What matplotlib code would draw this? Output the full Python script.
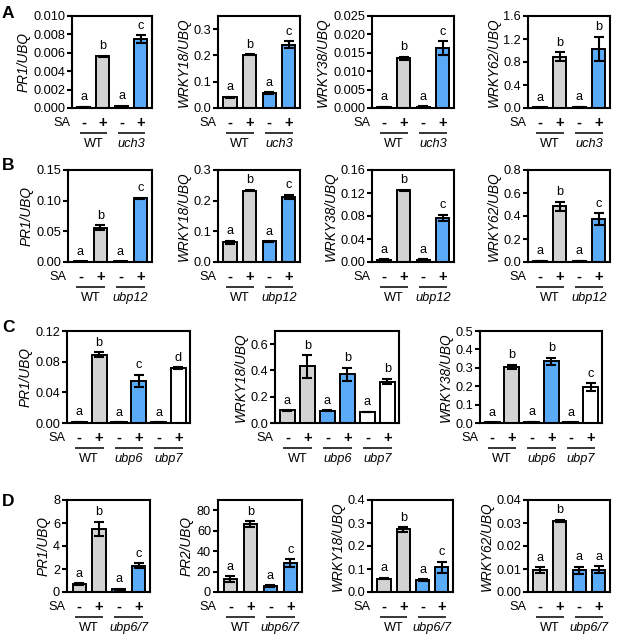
import numpy as np
import matplotlib
matplotlib.use('Agg')
import matplotlib.pyplot as plt
from matplotlib.transforms import blended_transform_factory

plt.rcParams['font.family'] = ['Liberation Sans', 'DejaVu Sans']

W, H = 617, 640
fig = plt.figure(figsize=(W / 100, H / 100), dpi=100)

GRAY = '#d3d3d3'
BLUE = '#5aabf7'
WHITE = '#ffffff'

# ---------------- data ----------------
sa_marks = ['-', '+']

# Row A (uch3)
A_genes = ['PR1', 'WRKY18', 'WRKY38', 'WRKY62']
A_groups = ['WT', 'uch3']
A_values = [[0.0001, 0.0056, 0.0002, 0.0075],
            [0.040, 0.203, 0.057, 0.240],
            [0.0003, 0.0135, 0.0004, 0.0163],
            [0.010, 0.890, 0.015, 1.030]]
A_errors = [[0.00003, 0.0001, 0.00005, 0.0004],
            [0.002, 0.002, 0.002, 0.013],
            [0.00005, 0.0004, 0.00005, 0.0019],
            [0.005, 0.080, 0.005, 0.210]]
A_letters = [['a', 'b', 'a', 'c'], ['a', 'b', 'a', 'c'],
             ['a', 'b', 'a', 'c'], ['a', 'b', 'a', 'b']]
A_ymax = [0.010, 0.35, 0.025, 1.6]
A_yticks = [[0, 0.002, 0.004, 0.006, 0.008, 0.010],
            [0, 0.1, 0.2, 0.3],
            [0, 0.005, 0.010, 0.015, 0.020, 0.025],
            [0, 0.4, 0.8, 1.2, 1.6]]
A_decimals = [3, 1, 3, 1]

# Row B (ubp12)
B_genes = ['PR1', 'WRKY18', 'WRKY38', 'WRKY62']
B_groups = ['WT', 'ubp12']
B_values = [[0.001, 0.056, 0.001, 0.104],
            [0.065, 0.233, 0.067, 0.213],
            [0.004, 0.125, 0.004, 0.077],
            [0.010, 0.485, 0.010, 0.372]]
B_errors = [[0.0002, 0.004, 0.0002, 0.001],
            [0.005, 0.002, 0.001, 0.006],
            [0.0005, 0.001, 0.0005, 0.005],
            [0.002, 0.040, 0.002, 0.050]]
B_letters = [['a', 'b', 'a', 'c'], ['a', 'b', 'a', 'c'],
             ['a', 'b', 'a', 'c'], ['a', 'b', 'a', 'c']]
B_ymax = [0.15, 0.3, 0.16, 0.8]
B_yticks = [[0, 0.05, 0.10, 0.15],
            [0, 0.1, 0.2, 0.3],
            [0, 0.04, 0.08, 0.12, 0.16],
            [0, 0.2, 0.4, 0.6, 0.8]]
B_decimals = [2, 1, 2, 1]

# Row C (ubp6, ubp7)
C_genes = ['PR1', 'WRKY18', 'WRKY38']
C_groups = ['WT', 'ubp6', 'ubp7']
C_values = [[0.0015, 0.089, 0.001, 0.055, 0.001, 0.072],
            [0.097, 0.430, 0.095, 0.370, 0.085, 0.315],
            [0.003, 0.305, 0.005, 0.335, 0.003, 0.195]]
C_errors = [[0.0003, 0.003, 0.0002, 0.008, 0.0002, 0.001],
            [0.002, 0.085, 0.002, 0.050, 0.002, 0.022],
            [0.001, 0.012, 0.001, 0.020, 0.001, 0.022]]
C_letters = [['a', 'b', 'a', 'c', 'a', 'd'],
             ['a', 'b', 'a', 'b', 'a', 'b'],
             ['a', 'b', 'a', 'b', 'a', 'c']]
C_ymax = [0.12, 0.7, 0.5]
C_yticks = [[0, 0.04, 0.08, 0.12],
            [0, 0.2, 0.4, 0.6],
            [0, 0.1, 0.2, 0.3, 0.4, 0.5]]
C_decimals = [2, 1, 1]

# Row D (ubp6/7)
D_genes = ['PR1', 'PR2', 'WRKY18', 'WRKY62']
D_groups = ['WT', 'ubp6/7']
D_values = [[0.70, 5.50, 0.25, 2.30],
            [12.5, 66.5, 5.5, 28.0],
            [0.058, 0.272, 0.052, 0.107],
            [0.0095, 0.0310, 0.0094, 0.0096]]
D_errors = [[0.05, 0.60, 0.05, 0.20],
            [3.0, 2.5, 1.0, 4.0],
            [0.003, 0.010, 0.003, 0.025],
            [0.0012, 0.0005, 0.0015, 0.0015]]
D_letters = [['a', 'b', 'a', 'c'], ['a', 'b', 'a', 'c'],
             ['a', 'b', 'a', 'c'], ['a', 'b', 'a', 'a']]
D_ymax = [8, 90, 0.4, 0.04]
D_yticks = [[0, 2, 4, 6, 8],
            [0, 20, 40, 60, 80],
            [0, 0.1, 0.2, 0.3, 0.4],
            [0, 0.01, 0.02, 0.03, 0.04]]
D_decimals = [0, 0, 1, 2]

# ---------------- layout (pixels: left, right, top, bottom) ----------------
A_rects = [(72, 152, 16, 108), (218, 300, 16, 108), (372, 454, 16, 108), (528, 610, 16, 108)]
B_rects = [(68, 152, 170, 262), (218, 300, 170, 262), (372, 454, 170, 262), (528, 610, 170, 262)]
C_rects = [(67, 190, 331, 423), (275, 399, 331, 423), (480, 602, 331, 423)]
D_rects = [(67, 150, 500, 592), (218, 302, 500, 592), (372, 453, 500, 592), (528, 610, 500, 592)]

col4 = [GRAY, GRAY, BLUE, BLUE]
col6 = [GRAY, GRAY, BLUE, BLUE, WHITE, WHITE]

FS = 9.2
LW = 1.5


def draw_panel(rect, gene, vals, errs, lets, ymax, yticks, dec, groups, colors):
    l, r, t, b = rect
    hpx = b - t
    ax = fig.add_axes([l / W, 1 - b / H, (r - l) / W, (b - t) / H])
    n = len(vals)
    x = np.arange(n)
    bw = 0.68 if n == 4 else 0.76
    ax.bar(x, vals, width=bw, color=colors, edgecolor='black', linewidth=1.4, zorder=2)
    ax.errorbar(x, vals, yerr=errs, fmt='none', ecolor='black', elinewidth=LW,
                capsize=3.4, capthick=LW, zorder=3)
    for xi, v, e, s in zip(x, vals, errs, lets):
        ax.annotate(s, (xi, v + e), xytext=(0, 2.5), textcoords='offset points',
                    ha='center', va='bottom', fontsize=FS)
    ax.set_xlim(-0.62, n - 0.42)
    ax.set_ylim(0, ymax)
    ax.set_yticks(yticks)
    ax.set_yticklabels([f'{v:.{dec}f}' for v in yticks])
    ax.set_xticks([])
    ax.set_ylabel(f'{gene}/UBQ', style='italic', fontsize=9.8, labelpad=2)
    for sp in ax.spines.values():
        sp.set_linewidth(LW)
    ax.tick_params(axis='y', length=3.5, width=LW, labelsize=FS, pad=1.5, direction='out')

    tr = blended_transform_factory(ax.transData, ax.transAxes)
    y_sa = -15 / hpx
    y_line = -25 / hpx
    y_grp = -36 / hpx
    ax.text(-0.015, y_sa, 'SA', transform=ax.transAxes, ha='right', va='center', fontsize=FS)
    for xi in x:
        ax.text(xi, y_sa, sa_marks[xi % 2], transform=tr, ha='center', va='center',
                fontsize=10.5, fontweight='bold')
    for gi, g in enumerate(groups):
        c = 2 * gi + 0.5
        ax.plot([c - 0.72, c + 0.72], [y_line, y_line], transform=tr, color='black',
                lw=1.1, clip_on=False, solid_capstyle='butt')
        ax.text(c, y_grp, g, transform=tr, ha='center', va='center', fontsize=FS,
                style='normal' if g == 'WT' else 'italic')
    return ax


rows = [
    ('A', A_genes, A_values, A_errors, A_letters, A_ymax, A_yticks, A_decimals, A_groups, A_rects, col4),
    ('B', B_genes, B_values, B_errors, B_letters, B_ymax, B_yticks, B_decimals, B_groups, B_rects, col4),
    ('C', C_genes, C_values, C_errors, C_letters, C_ymax, C_yticks, C_decimals, C_groups, C_rects, col6),
    ('D', D_genes, D_values, D_errors, D_letters, D_ymax, D_yticks, D_decimals, D_groups, D_rects, col4),
]
letter_y = {'A': 13, 'B': 165, 'C': 327, 'D': 502}

for (lab, genes, values, errors, letters, ymaxs, yticks, decs, groups, rects, cols) in rows:
    for i in range(len(genes)):
        draw_panel(rects[i], genes[i], values[i], errors[i], letters[i], ymaxs[i],
                   yticks[i], decs[i], groups, cols)
    fig.text(2 / W, 1 - letter_y[lab] / H, lab, fontsize=12.5, fontweight='bold',
             ha='left', va='center')

fig.savefig('out.png', dpi=100)
